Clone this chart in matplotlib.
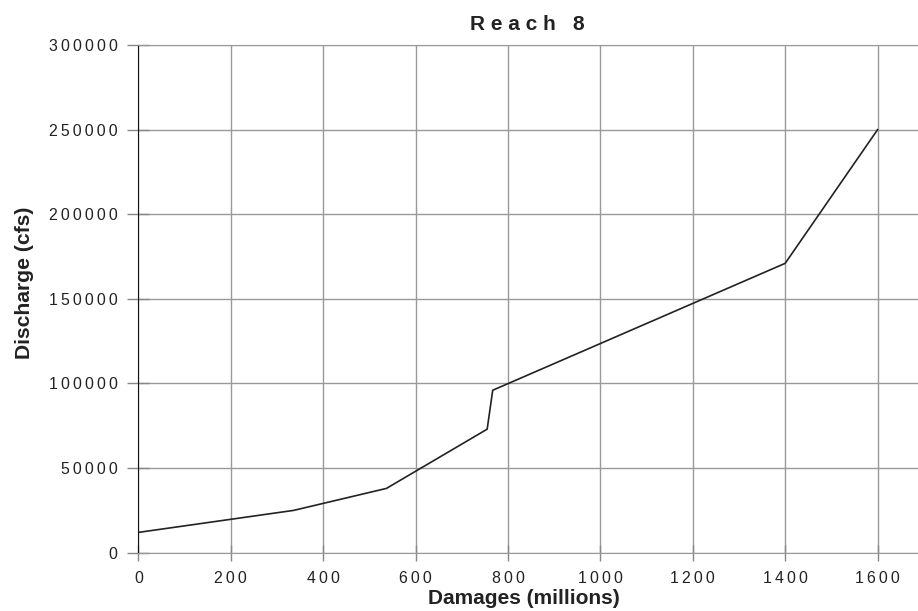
import matplotlib
matplotlib.use("Agg")
import matplotlib.pyplot as plt
from matplotlib.ticker import FuncFormatter

plt.rcParams['font.family'] = ['Liberation Sans', 'DejaVu Sans']

# Reach 8 damage curve
damages = [0, 336, 537, 755, 767, 1400, 1600]
discharge = [12000, 25000, 38000, 73000, 96000, 171000, 250000]

x_ticks = [0, 200, 400, 600, 800, 1000, 1200, 1400, 1600]
y_ticks = [0, 50000, 100000, 150000, 200000, 250000, 300000]


def spaced(v, pos=None):
    # letter-spaced tick labels like the original
    return '\u2009'.join(str(int(v)))


fig = plt.figure(figsize=(9.18, 6.11), dpi=100)
ax = fig.add_axes([0.1507, 0.0954, 0.8556, 0.8309])

ax.plot(damages, discharge, color='#222222', linewidth=1.2)

ax.set_xlim(0, 1700)
ax.set_ylim(0, 300000)
ax.set_xticks(x_ticks)
ax.set_yticks(y_ticks)
ax.xaxis.set_major_formatter(FuncFormatter(spaced))
ax.yaxis.set_major_formatter(FuncFormatter(spaced))

ax.grid(True, color='#999999', linewidth=1.0)
ax.set_axisbelow(True)

for side in ['top', 'bottom']:
    ax.spines[side].set_color('#999999')
ax.spines['right'].set_visible(False)
ax.spines['left'].set_color('#111111')

ax.tick_params(axis='y', direction='inout', length=16, width=1, color='#888888',
               labelsize=11.4, labelcolor='#222222', pad=7)
ax.tick_params(axis='x', direction='inout', length=11, width=1, color='#888888',
               labelsize=11.4, labelcolor='#222222', pad=8)

fig.text(0.574, 1 - 24 / 611, 'R e a c h   8', ha='center', va='center',
         fontsize=15, fontweight='bold', color='#222222')
fig.text(0.571, 1 - 598 / 611, 'Damages (millions)', ha='center', va='center',
         fontsize=15, fontweight='bold', color='#222222')
fig.text(25 / 918, 1 - 283 / 611, 'Discharge (cfs)', ha='center', va='center',
         rotation=90, fontsize=15.2, fontweight='bold', color='#222222')

fig.savefig('out.png', dpi=100)
